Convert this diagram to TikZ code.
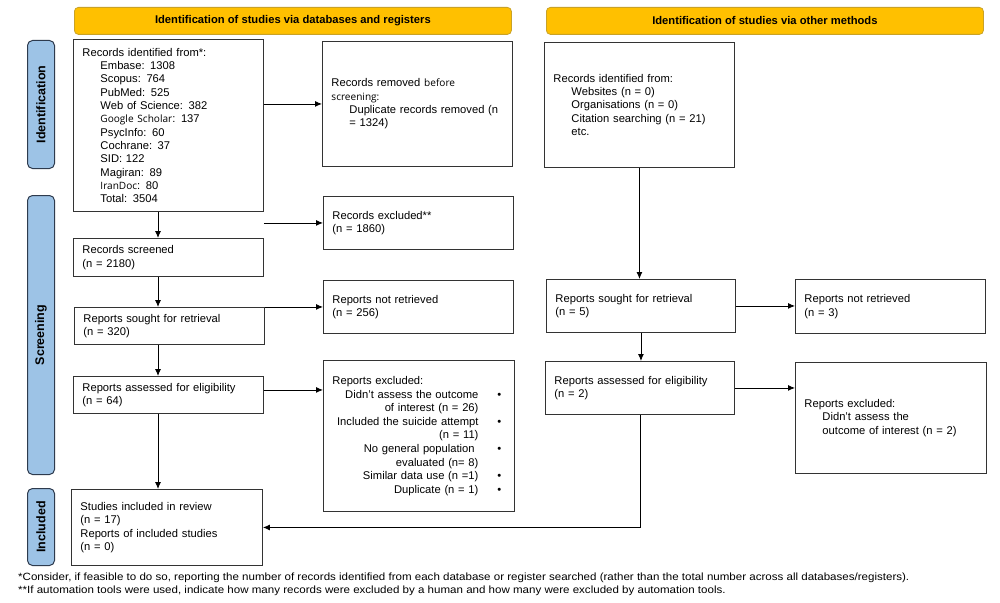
\documentclass[tikz,border=0pt]{standalone}
\usepackage{fontspec}
\setmainfont{Liberation Sans}
\newfontfamily\altfont{Open Sans}[Scale=0.9]
\usetikzlibrary{arrows.meta,calc}
\definecolor{hdrfill}{HTML}{FFC000}
\definecolor{hdrline}{HTML}{C9A227}
\definecolor{sidefill}{HTML}{9DC3E6}
\definecolor{sideline}{HTML}{2E3B4E}
\tikzset{
  box/.style={draw=black!80, line width=0.9pt, rectangle, anchor=north west, inner xsep=9pt, inner ysep=2pt, align=left, font=\fontsize{11.2}{13.3}\selectfont},
  hdr/.style={draw=hdrline, line width=0.8pt, fill=hdrfill, rounded corners=4pt, anchor=north west, font=\fontsize{11.2}{12}\selectfont\bfseries},
  side/.style={draw=sideline, line width=1pt, fill=sidefill, rounded corners=5pt, anchor=north west},
  sidetxt/.style={rotate=90, font=\fontsize{12.5}{13}\selectfont\bfseries},
  arr/.style={draw=black, line width=0.9pt, -{Latex[length=7pt,width=6pt]}},
  fnote/.style={anchor=west, inner sep=0pt, font=\fontsize{10.5}{11}\selectfont}
}
\newcommand{\ind}{\hspace*{18pt}}
\newcommand{\bl}[1]{\makebox[146pt][r]{#1}\hspace*{19pt}\textbullet}
\newcommand{\nb}[1]{\makebox[146pt][r]{#1}}
\begin{document}
\begin{tikzpicture}[x=1pt,y=-1pt]
\useasboundingbox[fill=white] (0,0) rectangle (1000,602);
% headers
\node[hdr, minimum width=437pt, minimum height=27pt] (h1) at (74,7) {Identification of studies via databases and registers};
\node[hdr, minimum width=437pt, minimum height=27pt] (h2) at (546,7) {Identification of studies via other methods};
% side labels
\node[side, minimum width=27pt, minimum height=128pt] (s1) at (27,40) {};
\node[sidetxt] (s1t) at (s1.center) {Identification};
\node[side, minimum width=27pt, minimum height=279pt] (s2) at (27,195) {};
\node[sidetxt] (s2t) at (s2.center) {Screening};
\node[side, minimum width=27pt, minimum height=77pt] (s3) at (27,488) {};
\node[sidetxt] (s3t) at (s3.center) {Included};
% left column
\node[box, minimum width=190pt, minimum height=172pt, text width=172pt] (rid) at (73,39) {Records identified from*:\\
\ind Embase: 1308\\
\ind Scopus: 764\\
\ind PubMed: 525\\
\ind Web of Science: 382\\
\ind {\altfont Google Scholar}: 137\\
\ind PsycInfo: 60\\
\ind Cochrane: 37\\
\ind SID: 122\\
\ind Magiran: 89\\
\ind {\altfont IranDoc}: 80\\
\ind Total: 3504};
\node[box, minimum width=190pt, minimum height=125pt, text width=172pt] (rem) at (322,41) {Records removed {\altfont before}\\
{\altfont screening:}\\
\ind Duplicate records removed (n\\
\ind = 1324)\\[22pt]};
\node[box, minimum width=190pt, minimum height=53pt, text width=172pt] (exc) at (323,196) {Records excluded**\\(n = 1860)};
\node[box, minimum width=190pt, minimum height=38pt, text width=172pt] (scr) at (73,238) {Records screened\\(n = 2180)};
\node[box, minimum width=190pt, minimum height=53pt, text width=172pt] (nr) at (323,280) {Reports not retrieved\\(n = 256)\\[6pt]};
\node[box, minimum width=190pt, minimum height=37pt, text width=172pt] (so) at (74,307) {Reports sought for retrieval\\(n = 320)};
\node[box, minimum width=190pt, minimum height=37pt, text width=172pt] (ae) at (73,376) {Reports assessed for eligibility\\(n = 64)};
\node[box, minimum width=191pt, minimum height=151pt, text width=173pt, font=\fontsize{11.2}{13.6}\selectfont] (rex) at (323,360) {Reports excluded:\\
\bl{Didn't assess the outcome}\\
\nb{of interest (n = 26)}\\
\bl{Included the suicide attempt}\\
\nb{(n = 11)}\\
\bl{No general population }\\
\nb{evaluated (n= 8)}\\
\bl{Similar data use (n =1)}\\
\bl{Duplicate (n = 1)}};
\node[box, minimum width=191pt, minimum height=76pt, text width=173pt] (inc) at (71,489) {Studies included in review\\(n = 17)\\Reports of included studies\\(n = 0)};
% right column
\node[box, minimum width=190pt, minimum height=125pt, text width=172pt] (rid2) at (544,42) {Records identified from:\\
\ind Websites (n = 0)\\
\ind Organisations (n = 0)\\
\ind Citation searching (n = 21)\\
\ind etc.\\[8pt]};
\node[box, minimum width=189pt, minimum height=53pt, text width=171pt] (so2) at (546,279) {Reports sought for retrieval\\(n = 5)\\[6pt]};
\node[box, minimum width=190pt, minimum height=54pt, text width=172pt] (nr2) at (795,279) {Reports not retrieved\\(n = 3)\\[6pt]};
\node[box, minimum width=189pt, minimum height=53pt, text width=171pt] (ae2) at (545,361) {Reports assessed for eligibility\\(n = 2)\\[8pt]};
\node[box, minimum width=191pt, minimum height=111pt, text width=173pt] (rex2) at (795,362) {Reports excluded:\\
\ind Didn't assess the\\
\ind outcome of interest (n = 2)\\[14pt]};
% connectors
\coordinate (colA) at (158,0);
\draw[arr] (rid.south -| colA) -- (scr.north -| colA);
\draw[arr] (scr.south -| colA) -- (so.north -| colA);
\draw[arr] (so.south -| colA) -- (ae.north -| colA);
\draw[arr] (ae.south -| colA) -- (inc.north -| colA);
\draw[arr] (rem.west -| rid.east) -- (rem.west);
\draw[arr] (exc.west -| rid.east) -- (exc.west);
\draw[arr] (nr.west -| so.east) -- (nr.west);
\draw[arr] ([yshift=5pt]ae.east) -- ([yshift=5pt]ae.east -| rex.west);
\draw[arr] (rid2.south) -- (rid2.south |- so2.north);
\draw[arr] (so2.east) -- (so2.east -| nr2.west);
\draw[arr] (so2.south) -- (so2.south |- ae2.north);
\draw[arr] (ae2.east) -- (ae2.east -| rex2.west);
\draw[arr] (ae2.south) |- (inc.east);
% footnotes
\node[fnote] (f1) at (18,578) {\scalebox{1.1}[1]{*Consider, if feasible to do so, reporting the number of records identified from each database or register searched (rather than the total number across all databases/registers).}};
\node[fnote] (f2) at (18,591) {\scalebox{1.1}[1]{**If automation tools were used, indicate how many records were excluded by a human and how many were excluded by automation tools.}};
\end{tikzpicture}
\end{document}
